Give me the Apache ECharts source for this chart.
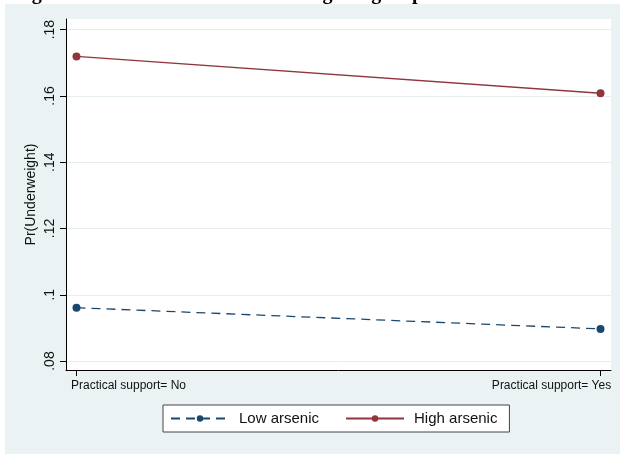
<!DOCTYPE html>
<html>
<head>
<meta charset="utf-8">
<script src="https://cdn.jsdelivr.net/npm/echarts@6/dist/echarts.min.js"></script>
<style>
  html, body { margin: 0; padding: 0; background: #fff; }
  #chart { width: 620px; height: 454px; }
</style>
</head>
<body>
<div id="chart"></div>
<script>
// x positions: 0 = No, 1 = Yes
let supportX = [0, 1];
let supportLabels = ['Practical support= No', 'Practical support= Yes'];
let lowArsenic = [0.0961, 0.0897];
let highArsenic = [0.1719, 0.1608];
let yTicks = [0.08, 0.10, 0.12, 0.14, 0.16, 0.18];

const navy = '#1a476f';
const maroon = '#90353b';
const font = 'Liberation Sans, Arial, sans-serif';

function pairs(xs, ys) {
    return xs.map((x, i) => [x, ys[i]]);
}

let option = {
    backgroundColor: '#fff',
    animation: false,
    title: {
        text: 'Figure 1: Interaction of arsenic and getting help',
        left: 14,
        top: -16,
        padding: 0,
        textStyle: {
            fontFamily: 'Liberation Serif, Times New Roman, serif',
            fontWeight: 'bold',
            fontSize: 20,
            color: '#000'
        }
    },
    graphic: [{
        type: 'rect',
        z: -10,
        shape: { x: 5, y: 4, width: 615, height: 450 },
        style: { fill: '#eaf2f3' }
    }],
    grid: {
        left: 66,
        right: 9,
        top: 19,
        bottom: 84,
        show: true,
        backgroundColor: '#fff',
        borderWidth: 0
    },
    xAxis: {
        type: 'value',
        min: -0.02,
        max: 1.02,
        axisLine: { onZero: false, lineStyle: { color: '#000', width: 1 } },
        axisTick: { show: true, length: 6, customValues: supportX, lineStyle: { color: '#000' } },
        splitLine: { show: false },
        axisLabel: {
            customValues: supportX,
            margin: 10,
            fontFamily: font,
            fontSize: 12,
            color: '#111',
            formatter: (v) => {
                if (Math.abs(v) < 1e-9) return '{l|' + supportLabels[0] + '}';
                if (Math.abs(v - 1) < 1e-9) return '{r|' + supportLabels[1] + '}';
                return '';
            },
            rich: {
                l: { fontFamily: font, fontSize: 12, color: '#111', padding: [0, 0, 0, 104] },
                r: { fontFamily: font, fontSize: 12, color: '#111', padding: [0, 98, 0, 0] }
            }
        }
    },
    yAxis: {
        type: 'value',
        min: 0.0773,
        max: 0.1832,
        splitNumber: 5,
        name: 'Pr(Underweight)',
        nameLocation: 'middle',
        nameGap: 28,
        nameMoveOverlap: false,
        nameTextStyle: { fontFamily: font, fontSize: 14, color: '#111' },
        axisLine: { show: true, onZero: false, lineStyle: { color: '#000', width: 1 } },
        axisTick: { show: true, length: 6, customValues: yTicks, lineStyle: { color: '#000' } },
        splitLine: { show: true, lineStyle: { color: '#e4ecef', width: 1 } },
        axisLabel: {
            customValues: yTicks,
            rotate: 90,
            margin: 9,
            fontFamily: font,
            fontSize: 14,
            color: '#111',
            formatter: (v) => v.toFixed(2).replace(/^0/, '').replace(/0$/, '')
        }
    },
    legend: {
        left: 163,
        top: 405,
        orient: 'horizontal',
        backgroundColor: '#fff',
        borderColor: '#444',
        borderWidth: 1,
        borderRadius: 0,
        padding: [6, 12, 6, 7],
        itemWidth: 58,
        itemHeight: 8,
        itemGap: 26,
        textStyle: { fontFamily: font, fontSize: 15, color: '#111', padding: [0, 0, 0, 5] },
        data: ['Low arsenic', 'High arsenic']
    },
    series: [
        {
            name: 'Low arsenic',
            type: 'line',
            data: pairs(supportX, lowArsenic),
            symbol: 'circle',
            symbolSize: 8,
            itemStyle: { color: navy },
            lineStyle: { color: navy, width: 1.3, type: [9, 6] }
        },
        {
            name: 'High arsenic',
            type: 'line',
            data: pairs(supportX, highArsenic),
            symbol: 'circle',
            symbolSize: 8,
            itemStyle: { color: maroon },
            lineStyle: { color: maroon, width: 1.3 }
        }
    ]
};

let chart = echarts.init(document.getElementById('chart'));
chart.setOption(option);
</script>
</body>
</html>
